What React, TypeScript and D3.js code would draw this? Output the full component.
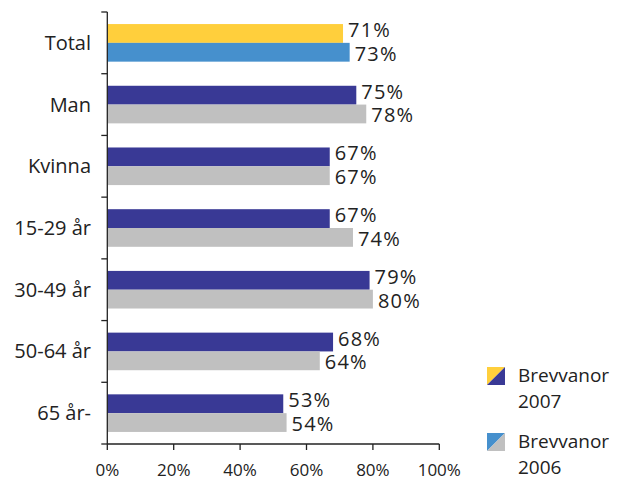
import React from "react";
import * as d3 from "d3";

const categories = ["Total", "Man", "Kvinna", "15-29 år", "30-49 år", "50-64 år", "65 år-"];
const values2007 = [71, 75, 67, 67, 79, 68, 53];
const values2006 = [73, 78, 67, 74, 80, 64, 54];
const xTicks = [0, 20, 40, 60, 80, 100];
const legendLabels = [["Brevvanor", "2007"], ["Brevvanor", "2006"]];

const FONT = "'Open Sans', 'Noto Sans', sans-serif";
const C_YELLOW = "#FFCF3C";
const C_BLUE = "#4690CD";
const C_NAVY = "#393995";
const C_GRAY = "#C0C0C0";

export default function App() {
  const W = 627, H = 480;
  const x0 = 107.3, x1 = 439.3, yTop = 12, yBot = 444;
  const x = d3.scaleLinear().domain([0, 100]).range([x0, x1]);
  const y = d3.scaleBand().domain(categories).range([yTop, yBot]).paddingInner(0).paddingOuter(0);
  const bw = y.bandwidth();
  const barH = 18.8;

  return (
    <div style={{ position: "absolute", left: 0, top: 0 }}>
      <svg width={W} height={H} style={{ display: "block" }} fontFamily={FONT}>
        <rect width={W} height={H} fill="#fff" />
        {categories.map((c, i) => {
          const yc = (y(c) as number) + bw / 2;
          const c1 = i === 0 ? C_YELLOW : C_NAVY;
          const c2 = i === 0 ? C_BLUE : C_GRAY;
          return (
            <g key={c}>
              <rect x={x(0)} y={yc - barH} width={x(values2007[i]) - x(0)} height={barH} fill={c1} />
              <rect x={x(0)} y={yc} width={x(values2006[i]) - x(0)} height={barH} fill={c2} />
              <text x={x(values2007[i]) + 5} y={yc - barH / 2 - 3.5} dy="0.35em" fontSize={20} letterSpacing={1.2} fill="#222">{values2007[i]}%</text>
              <text x={x(values2006[i]) + 5} y={yc + barH / 2 + 1.5} dy="0.35em" fontSize={20} letterSpacing={1.2} fill="#222">{values2006[i]}%</text>
              <text x={91} y={yc} dy="0.35em" textAnchor="end" fontSize={20} fill="#222">{c}</text>
            </g>
          );
        })}
        {/* y axis */}
        <line x1={x0} x2={x0} y1={yTop} y2={yBot} stroke="#222" strokeWidth={1.3} />
        {d3.range(categories.length + 1).map((k) => {
          const yy = yTop + k * bw;
          return <line key={k} x1={x0 - 6} x2={x0} y1={yy} y2={yy} stroke="#222" strokeWidth={1.3} />;
        })}
        {/* x axis */}
        <line x1={x0} x2={x1} y1={yBot} y2={yBot} stroke="#222" strokeWidth={1.3} />
        {xTicks.map((t) => (
          <g key={t}>
            <line x1={x(t)} x2={x(t)} y1={yBot} y2={yBot + 6} stroke="#222" strokeWidth={1.3} />
            <text x={x(t)} y={476} textAnchor="middle" fontSize={17} fill="#222">{t}%</text>
          </g>
        ))}
        {/* legend */}
        {legendLabels.map((lab, i) => {
          const ly = 367 + i * 66;
          const cA = i === 0 ? C_YELLOW : C_BLUE;
          const cB = i === 0 ? C_NAVY : C_GRAY;
          const lx = 487, s = 18;
          return (
            <g key={i}>
              <path d={`M${lx},${ly} L${lx + s},${ly} L${lx},${ly + s} Z`} fill={cA} />
              <path d={`M${lx + s},${ly} L${lx + s},${ly + s} L${lx},${ly + s} Z`} fill={cB} />
              <text x={518} y={ly + 15} fontSize={19} fill="#222">{lab[0]}</text>
              <text x={518} y={ly + 41} fontSize={19} fill="#222">{lab[1]}</text>
            </g>
          );
        })}
      </svg>
    </div>
  );
}
